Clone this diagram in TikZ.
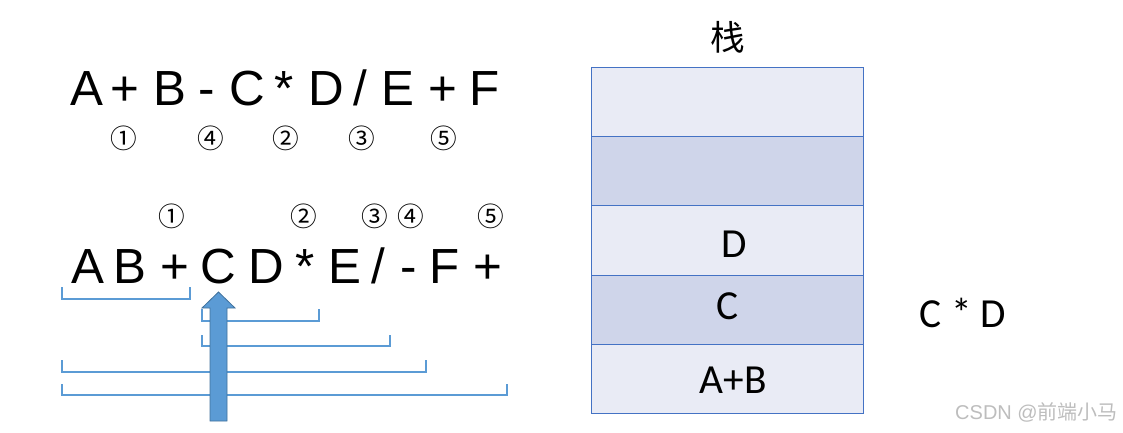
\documentclass[tikz,border=0pt]{standalone}
\usepackage{fontspec}
\setmainfont{Liberation Sans}
\newfontfamily\calfont{Carlito}
\newfontfamily\cjk{Noto Sans CJK SC}
\definecolor{brkblue}{HTML}{5B9BD5}
\definecolor{arrfill}{HTML}{5B9BD5}
\definecolor{arrdark}{HTML}{41719C}
\definecolor{stkline}{HTML}{4472C4}
\definecolor{stklight}{HTML}{E9EBF5}
\definecolor{stkdark}{HTML}{CFD5EA}
\definecolor{wmgray}{HTML}{BDBDBD}
\tikzset{
  big/.style={anchor=base, inner sep=0pt, font=\fontsize{37}{40}\selectfont},
  circ/.style={anchor=center, inner sep=0pt, font=\cjk\fontsize{20}{22}\selectfont},
  brk/.style={draw=brkblue, line width=1.2pt},
  stkrow/.style={draw=stkline, line width=0.6pt},
  stktext/.style={anchor=center, inner sep=0pt, font=\calfont\fontsize{31}{34}\selectfont},
}
\begin{document}
\begin{tikzpicture}[x=0.75pt, y=-0.75pt]
\useasboundingbox (0,0) rectangle (1123,432);
% top expression
\node[big] (t1) at (86.5,105) {A};
\node[big] (t2) at (125,105) {+};
\node[big] (t3) at (170,105) {B};
\node[big] (t4) at (207,105) {-};
\node[big] (t5) at (247,105) {C};
\node[big] (t6) at (284,105) {*};
\node[big] (t7) at (326,105) {D};
\node[big] (t8) at (360,105) {/};
\node[big] (t9) at (398,105) {E};
\node[big] (t10) at (443,105) {+};
\node[big] (t11) at (485,105) {F};
% top circled numbers
\node[circ] (c1) at (124,138) {①};
\node[circ] (c4) at (211,138) {④};
\node[circ] (c2) at (286,138) {②};
\node[circ] (c3) at (362,138) {③};
\node[circ] (c5) at (444,138) {⑤};
% second row circled numbers
\node[circ] (d1) at (172,216) {①};
\node[circ] (d2) at (304,216) {②};
\node[circ] (d3) at (375,216) {③};
\node[circ] (d4) at (411,216) {④};
\node[circ] (d5) at (491,216) {⑤};
% postfix expression
\node[big] (p1) at (87.5,283) {A};
\node[big] (p2) at (130,283) {B};
\node[big] (p3) at (174.5,283) {+};
\node[big] (p4) at (218,283) {C};
\node[big] (p5) at (266,283) {D};
\node[big] (p6) at (305.5,283) {*};
\node[big] (p7) at (345,283) {E};
\node[big] (p8) at (378,283) {/};
\node[big] (p9) at (409,283) {-};
\node[big] (p10) at (445,283) {F};
\node[big] (p11) at (487.5,283) {+};
% brackets
\draw[brk] (62,287) -- (62,299) -- (190,299) -- (190,287);
\draw[brk] (202,309) -- (202,321) -- (319,321) -- (319,309);
\draw[brk] (202,335) -- (202,346) -- (390,346) -- (390,335);
\draw[brk] (62,360) -- (62,372) -- (426,372) -- (426,360);
\draw[brk] (62,384) -- (62,395) -- (507,395) -- (507,384);
% pointer arrow
\draw[fill=arrfill, draw=arrdark, line width=0.6pt]
  (210,421) -- (210,308) -- (202,308) -- (218.5,292) -- (235,308) -- (227,308) -- (227,421) -- cycle;
% stack
\node[anchor=center, inner sep=0pt, font=\cjk\fontsize{26}{28}\selectfont] (title) at (728,37) {栈};
\draw[stkrow, fill=stklight] (591,67) rectangle (863,136);
\draw[stkrow, fill=stkdark] (591,136) rectangle (863,205);
\draw[stkrow, fill=stklight] (591,205) rectangle (863,275);
\draw[stkrow, fill=stkdark] (591,275) rectangle (863,344);
\draw[stkrow, fill=stklight] (591,344) rectangle (863,413);
\node[stktext] (sD) at (734,244) {D};
\node[stktext] (sC) at (728,306) {C};
\node[stktext] (sAB) at (733,380) {A+B};
\node[stktext] (res) at (963,313) {C * D};
% watermark
\node[anchor=east, inner sep=0pt, text=wmgray, font=\fontsize{15}{17}\selectfont] (wm) at (1118,412) {CSDN @{\cjk 前端小马}};
\end{tikzpicture}
\end{document}
